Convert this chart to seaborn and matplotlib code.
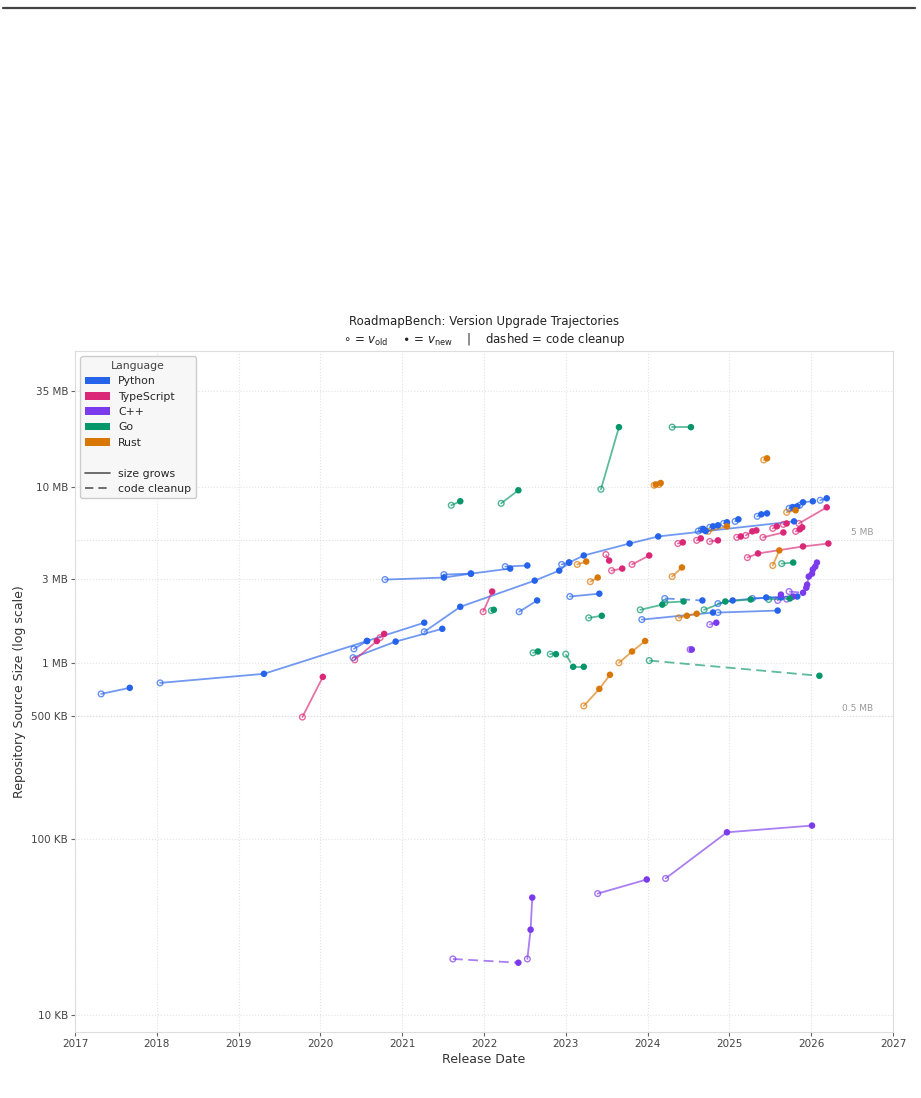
import pandas as pd
import matplotlib.pyplot as plt
import seaborn as sns
from matplotlib.lines import Line2D
from matplotlib.patches import Patch
from matplotlib.ticker import NullLocator

languages = ['Python', 'TypeScript', 'C++', 'Go', 'Rust']
colors = ['#2563eb', '#db2777', '#7c3aed', '#059669', '#d97706']

# each track: (release year, source size in MB); first point is v_old, the rest are v_new
python_tracks = [
    [(2017.32, 0.666), (2017.67, 0.721)],
    [(2018.04, 0.769), (2019.31, 0.866), (2020.57, 1.33), (2021.27, 1.69)],
    [(2020.41, 1.20), (2020.57, 1.33)],
    [(2020.40, 1.07), (2020.92, 1.32), (2021.49, 1.56)],
    [(2021.27, 1.50), (2021.71, 2.08), (2022.62, 2.93), (2022.92, 3.34), (2023.04, 3.71),
     (2023.22, 4.07), (2023.78, 4.76), (2024.13, 5.22), (2025.79, 6.36)],
    [(2022.95, 3.62), (2023.04, 3.71)],
    [(2020.79, 2.97), (2021.51, 3.05), (2021.84, 3.21), (2022.32, 3.43)],
    [(2021.51, 3.17), (2021.84, 3.21)],
    [(2022.26, 3.52), (2022.53, 3.57)],
    [(2023.05, 2.38), (2023.41, 2.47)],
    [(2022.43, 1.95), (2022.65, 2.26)],
    [(2023.93, 1.76), (2024.80, 1.93)],
    [(2024.86, 1.93), (2025.59, 1.98)],
    [(2024.21, 2.32), (2024.67, 2.26)],
    [(2024.86, 2.17), (2025.04, 2.26), (2025.45, 2.35), (2025.83, 2.38)],
    [(2025.28, 2.32), (2025.63, 2.35)],
    [(2024.62, 5.60), (2024.71, 5.60)],
    [(2024.66, 5.73), (2024.68, 5.76)],
    [(2024.76, 5.88), (2024.80, 5.96), (2024.86, 6.04)],
    [(2024.93, 6.19), (2024.97, 6.28)],
    [(2025.07, 6.36), (2025.11, 6.53)],
    [(2025.34, 6.79), (2025.39, 6.97), (2025.46, 7.06)],
    [(2025.73, 7.54), (2025.78, 7.64)],
    [(2025.77, 7.64), (2025.83, 7.74)],
    [(2025.86, 7.85), (2025.90, 8.16), (2026.02, 8.27)],
    [(2026.11, 8.38), (2026.19, 8.60)],
]

typescript_tracks = [
    [(2019.78, 0.492), (2020.03, 0.832)],
    [(2020.42, 1.04), (2020.69, 1.33)],
    [(2020.73, 1.39), (2020.78, 1.46)],
    [(2021.99, 1.95), (2022.10, 2.54)],
    [(2023.49, 4.12), (2023.53, 3.81)],
    [(2023.56, 3.34), (2023.69, 3.43)],
    [(2023.81, 3.62), (2024.02, 4.07)],
    [(2024.37, 4.76), (2024.43, 4.83)],
    [(2024.60, 4.96), (2024.65, 5.09)],
    [(2024.76, 4.89), (2024.86, 4.96)],
    [(2025.09, 5.16), (2025.14, 5.22)],
    [(2025.20, 5.29), (2025.28, 5.58), (2025.33, 5.65)],
    [(2025.41, 5.16), (2025.66, 5.50)],
    [(2025.53, 5.80), (2025.58, 5.96)],
    [(2025.66, 6.11), (2025.70, 6.19)],
    [(2025.81, 5.58), (2025.86, 5.73), (2025.89, 5.88)],
    [(2025.85, 6.19), (2026.19, 7.64)],
    [(2025.22, 3.96), (2025.35, 4.18), (2025.90, 4.58), (2026.21, 4.76)],
]

cpp_tracks = [
    [(2021.62, 0.0208), (2022.42, 0.0198)],
    [(2022.53, 0.0208), (2022.57, 0.0305), (2022.59, 0.0464)],
    [(2023.39, 0.0489), (2023.99, 0.0588)],
    [(2024.22, 0.0596), (2024.97, 0.109), (2026.01, 0.119)],
    [(2024.52, 1.19), (2024.54, 1.19)],
    [(2024.76, 1.65), (2024.84, 1.69)],
    [(2025.59, 2.26), (2025.63, 2.44)],
    [(2025.70, 2.30), (2025.78, 2.38)],
    [(2025.73, 2.54), (2025.90, 2.50), (2025.94, 2.67), (2025.95, 2.78), (2025.97, 3.09),
     (2026.01, 3.21), (2026.02, 3.39), (2026.05, 3.52), (2026.07, 3.71)],
]

go_tracks = [
    [(2021.60, 7.85), (2021.71, 8.27)],
    [(2022.21, 8.05), (2022.42, 9.55)],
    [(2023.43, 9.68), (2023.65, 21.8)],
    [(2024.30, 21.8), (2024.53, 21.8)],
    [(2022.09, 1.98), (2022.12, 2.00)],
    [(2023.28, 1.80), (2023.44, 1.85)],
    [(2023.00, 1.12), (2023.09, 0.949), (2023.22, 0.949)],
    [(2022.60, 1.14), (2022.66, 1.16)],
    [(2022.81, 1.12), (2022.88, 1.12)],
    [(2024.02, 1.03), (2026.10, 0.844)],
    [(2023.91, 2.00), (2024.18, 2.14)],
    [(2024.21, 2.20), (2024.44, 2.23)],
    [(2024.69, 2.00), (2024.95, 2.23), (2025.26, 2.29)],
    [(2025.48, 2.29), (2025.74, 2.32)],
    [(2025.64, 3.66), (2025.78, 3.71)],
]

rust_tracks = [
    [(2023.14, 3.62), (2023.25, 3.76)],
    [(2023.30, 2.89), (2023.39, 3.05)],
    [(2024.08, 10.2), (2024.10, 10.3)],
    [(2024.14, 10.3), (2024.16, 10.5)],
    [(2025.42, 14.2), (2025.46, 14.5)],
    [(2024.30, 3.09), (2024.42, 3.48)],
    [(2025.70, 7.16), (2025.81, 7.35)],
    [(2025.53, 3.57), (2025.61, 4.35)],
    [(2024.38, 1.80), (2024.48, 1.85), (2024.60, 1.90)],
    [(2023.65, 1.00), (2023.81, 1.16), (2023.97, 1.33)],
    [(2023.22, 0.569), (2023.41, 0.711), (2023.54, 0.855)],
    [(2024.74, 5.58), (2024.97, 5.96)],
]

tracks_by_lang = {
    'Python': python_tracks,
    'TypeScript': typescript_tracks,
    'C++': cpp_tracks,
    'Go': go_tracks,
    'Rust': rust_tracks,
}

# build segment and point tables
seg_rows, old_rows, new_rows = [], [], []
seg_id = 0
for lang, tracks in tracks_by_lang.items():
    for tr in tracks:
        old_rows.append({'lang': lang, 'year': tr[0][0], 'size': tr[0][1]})
        for p in tr[1:]:
            new_rows.append({'lang': lang, 'year': p[0], 'size': p[1]})
        for a, b in zip(tr[:-1], tr[1:]):
            kind = 'cleanup' if b[1] < a[1] else 'grow'
            seg_rows.append({'seg': seg_id, 'lang': lang, 'year': a[0], 'size': a[1], 'kind': kind})
            seg_rows.append({'seg': seg_id, 'lang': lang, 'year': b[0], 'size': b[1], 'kind': kind})
            seg_id += 1

segs = pd.DataFrame(seg_rows)
olds = pd.DataFrame(old_rows)
news = pd.DataFrame(new_rows)
palette = dict(zip(languages, colors))

sns.set_theme(style='whitegrid')
plt.rcParams['font.family'] = ['DejaVu Sans']

fig = plt.figure(figsize=(9.21, 10.98), dpi=100)
ax = fig.add_axes([0.0814, 0.0601, 0.8882, 0.6202])
ax.set_yscale('log')

sns.lineplot(data=segs, x='year', y='size', hue='lang', hue_order=languages, palette=palette,
             units='seg', estimator=None, style='kind', dashes={'grow': '', 'cleanup': (5.5, 3)},
             sort=False, legend=False, alpha=0.65, linewidth=1.3, ax=ax, zorder=2)

sns.scatterplot(data=olds, x='year', y='size', hue='lang', hue_order=languages, palette=palette,
                s=17, legend=False, ax=ax, zorder=3)
coll = ax.collections[-1]
fc = coll.get_facecolors()
fc[:, 3] = 0.7
coll.set_edgecolors(fc)
coll.set_facecolors('none')
coll.set_linewidths(1.0)

sns.scatterplot(data=news, x='year', y='size', hue='lang', hue_order=languages, palette=palette,
                s=22, linewidth=0, legend=False, ax=ax, zorder=4)

# reference levels
for lvl, lab in [(5, '5 MB'), (0.5, '0.5 MB')]:
    ax.axhline(lvl, color='#dddddd', lw=0.8, ls=':', zorder=1)
    ax.text(2026.76, lvl * 1.04, lab, ha='right', va='bottom', fontsize=6.5, color='#999999')

ax.set_xlim(2017, 2027)
ax.set_ylim(0.008, 59)
ax.set_xticks(range(2017, 2028))
ax.set_xticklabels([str(y) for y in range(2017, 2028)])
yt = [0.01, 0.1, 0.5, 1, 3, 10, 35]
ax.set_yticks(yt)
ax.set_yticklabels(['10 KB', '100 KB', '500 KB', '1 MB', '3 MB', '10 MB', '35 MB'])
ax.yaxis.set_minor_locator(NullLocator())
ax.tick_params(axis='both', labelsize=7.5, labelcolor='#444444', left=True, bottom=True,
               length=3, width=0.8, color='#666666', pad=2)
ax.grid(True, ls=':', color='#e3e3e3', lw=0.8)
for s in ax.spines.values():
    s.set_color('#dddddd')
    s.set_linewidth(0.8)

ax.set_xlabel('Release Date', fontsize=9, color='#333333', labelpad=3)
ax.set_ylabel('Repository Source Size (log scale)', fontsize=9, color='#333333', labelpad=4)
ax.set_title('RoadmapBench: Version Upgrade Trajectories\n'
             r'$\circ$ = $v_{\mathrm{old}}$    $\bullet$ = $v_{\mathrm{new}}$    |    dashed = code cleanup',
             fontsize=8.5, color='#222222', pad=6)

handles = [Patch(facecolor=c, edgecolor='none', label=l) for l, c in zip(languages, colors)]
handles.append(Line2D([], [], color='none', label=' '))
handles.append(Line2D([], [], color='#555555', lw=1.2, label='size grows'))
handles.append(Line2D([], [], color='#555555', lw=1.2, ls=(0, (5, 3)), label='code cleanup'))
leg = ax.legend(handles=handles, title='Language', loc='upper left', fontsize=7.8,
                title_fontsize=7.8, handlelength=2.3, labelspacing=0.5, frameon=True,
                facecolor='#f7f7f7', edgecolor='#cccccc', framealpha=1, borderaxespad=0.5)
leg.get_title().set_color('#444444')

fig.add_artist(Line2D([3 / 921, 915 / 921], [1 - 7.5 / 1098] * 2, transform=fig.transFigure,
                      color='#444444', lw=1.6))

fig.savefig('out.png', dpi=100)
